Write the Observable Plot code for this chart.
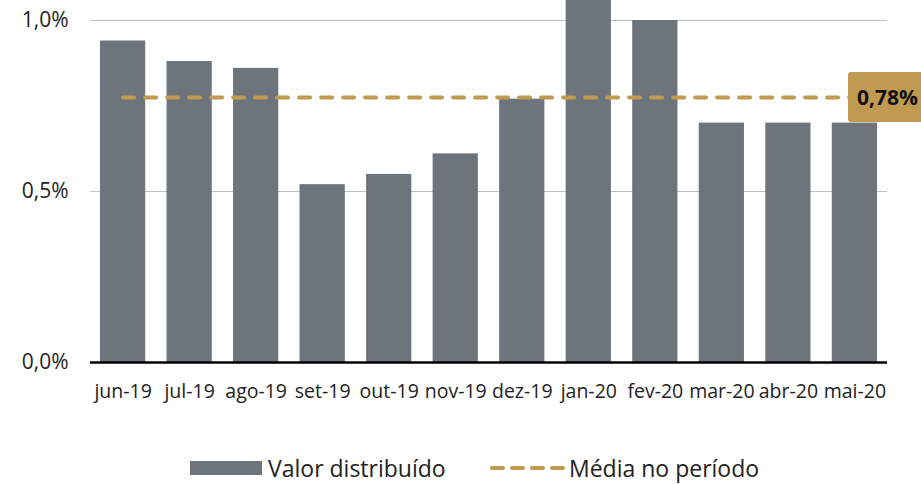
<!DOCTYPE html>
<html><head><meta charset="utf-8">
<script src="https://cdn.jsdelivr.net/npm/d3@7"></script>
<script src="https://cdn.jsdelivr.net/npm/@observablehq/plot@0.6"></script>
<style>
body{margin:0;background:#fff;font-family:"Open Sans",sans-serif;}
#chart{position:relative;width:921px;}
#legend{position:relative;height:64px;width:921px;font-size:23px;color:#222;}
.item{position:absolute;top:35px;display:flex;align-items:center;height:26px;line-height:26px;white-space:nowrap;}
</style></head>
<body>
<div id="chart"></div>
<div id="legend">
  <div class="item" style="left:190px"><span style="display:inline-block;width:72px;height:14px;background:#6d747b;margin-right:6px"></span>Valor distribuído</div>
  <div class="item" style="left:490px"><svg width="78" height="10" style="margin-right:1px"><line x1="2" x2="76" y1="5" y2="5" stroke="#c09a50" stroke-width="4" stroke-linecap="round" stroke-dasharray="11,9"/></svg>Média no período</div>
</div>
<script>
const months = ["jun-19","jul-19","ago-19","set-19","out-19","nov-19","dez-19","jan-20","fev-20","mar-20","abr-20","mai-20"];
const values = [0.94,0.88,0.86,0.52,0.55,0.61,0.77,1.10,1.00,0.70,0.70,0.70];
const mean = 0.775;
const yTicks = [0,0.5,1.0];
const meanLabel = "0,78%";

const data = months.map((m,i)=>({month:m, value:values[i]}));
const fmt = d => d.toFixed(1).replace(".", ",") + "%";
const gold = "#c09a50";

const chart = Plot.plot({
  width: 921, height: 420,
  marginLeft: 90, marginRight: 34, marginTop: 0, marginBottom: 58,
  style: {fontFamily: "'Open Sans', sans-serif", color: "#222", background: "#fff"},
  x: {domain: months, paddingInner: 0.32, paddingOuter: 0.15, round: false},
  y: {domain: [0, 362/342]},
  marks: [
    Plot.ruleY(yTicks.filter(d=>d>0), {stroke: "#c0c0c0", strokeWidth: 1}),
    Plot.barY(data, {x: "month", y: "value", fill: "#6d747b", clip: true}),
    Plot.ruleY([0], {stroke: "#000", strokeWidth: 2.5}),
    Plot.lineY(months, {x: d=>d, y: ()=>mean, stroke: gold, strokeWidth: 4, strokeLinecap: "round", strokeDasharray: "11,11"}),
    Plot.axisY({ticks: yTicks, tickFormat: fmt, tickSize: 0, tickPadding: 22, fontSize: 21, label: null}),
    Plot.axisX({tickSize: 0, tickPadding: 22, fontSize: 19.5, label: null})
  ]
});
document.getElementById("chart").appendChild(chart);

// label box for the mean value
const ys = chart.scale("y");
const ym = ys.apply(mean);
const svg = d3.select(chart).style("overflow","visible");
const g = svg.append("g");
g.append("rect").attr("x", 848).attr("y", ym - 25).attr("width", 80).attr("height", 50).attr("rx", 3).attr("fill", gold);
g.append("text").attr("x", 857).attr("y", ym).attr("dy", "0.36em").attr("text-anchor","start").attr("font-size", 21).attr("font-weight", "bold").attr("fill", "#111").attr("font-family","'Open Sans', sans-serif").text(meanLabel);
</script>
</body></html>
